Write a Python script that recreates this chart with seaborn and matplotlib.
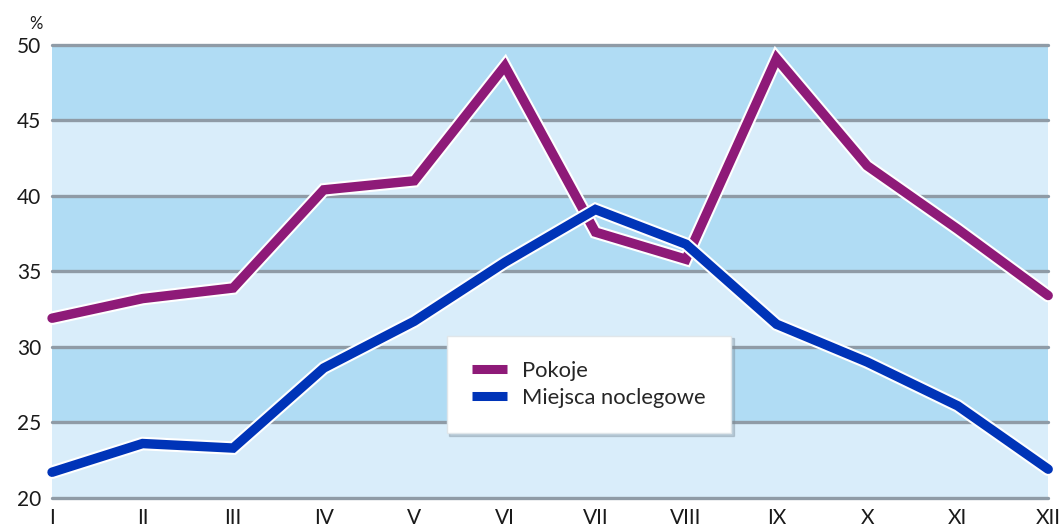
import numpy as np
import pandas as pd
import matplotlib
matplotlib.use('Agg')
import matplotlib.pyplot as plt
import matplotlib.patheffects as pe
from matplotlib.lines import Line2D
import seaborn as sns

# data
months = ['I', 'II', 'III', 'IV', 'V', 'VI', 'VII', 'VIII', 'IX', 'X', 'XI', 'XII']
pokoje = [31.9, 33.2, 33.9, 40.4, 41.0, 48.6, 37.6, 35.8, 49.1, 42.0, 37.8, 33.4]
miejsca = [21.7, 23.6, 23.3, 28.6, 31.7, 35.6, 39.1, 36.8, 31.5, 29.0, 26.1, 21.9]
series_names = ['Pokoje', 'Miejsca noclegowe']
band_edges = [20, 25, 30, 35, 40, 45, 50]

sns.set_style('white')
plt.rcParams['font.family'] = ['Lato', 'DejaVu Sans']

df = pd.DataFrame({
    'x': list(range(len(months))) * 2,
    'value': pokoje + miejsca,
    'series': [series_names[0]] * len(months) + [series_names[1]] * len(months),
})

fig = plt.figure(figsize=(10.62, 5.28), dpi=100)
ax = fig.add_axes([0.049, 0.057, 0.938, 0.858])

# alternating bands
light = '#d9edfa'
dark = '#b0dcf4'
for i in range(len(band_edges) - 1):
    ax.axhspan(band_edges[i], band_edges[i + 1], color=light if i % 2 == 0 else dark, lw=0, zorder=0)
for y in band_edges:
    ax.axhline(y, color='#8f9ba6', lw=2.4, zorder=1, clip_on=False)

palette = {series_names[0]: '#8e1a78', series_names[1]: '#0034b8'}
sns.lineplot(data=df, x='x', y='value', hue='series', palette=palette, ax=ax,
             linewidth=6.8, legend=False, zorder=3, sort=False)
for line in ax.lines[-2:]:
    line.set_path_effects([pe.Stroke(linewidth=9.8, foreground='white'), pe.Normal()])
    line.set_solid_joinstyle('miter')
    line.set_clip_on(False)

ax.set_xlim(0, len(months) - 1)
ax.set_ylim(20, 50)
ax.set_xticks(range(len(months)))
ax.set_xticklabels(months)
ax.set_yticks(band_edges)
ax.tick_params(axis='both', length=0, labelsize=15, colors='#1a1a1a')
ax.tick_params(axis='x', pad=7)
ax.tick_params(axis='y', pad=8)
ax.set_xlabel('')
ax.set_ylabel('')
for s in ax.spines.values():
    s.set_visible(False)

fig.text(0.028, 0.945, '%', fontsize=12, color='#1a1a1a')

# legend
handles = [Line2D([], [], color=palette[n], lw=6.5, solid_capstyle='butt') for n in series_names]
leg = ax.legend(handles, series_names, loc='upper left', bbox_to_anchor=(0.396, 0.358),
                frameon=True, fancybox=False, framealpha=1, fontsize=15.8, handlelength=1.6,
                borderpad=1.15, labelspacing=0.3, handletextpad=0.7, borderaxespad=0,
                shadow={'ox': 2, 'oy': -2, 'color': '#7a8a96', 'alpha': 0.35})
leg.get_frame().set_edgecolor('#e0e6ea')
leg.get_frame().set_linewidth(1)
leg.set_zorder(5)

fig.savefig('out.png', dpi=100)
